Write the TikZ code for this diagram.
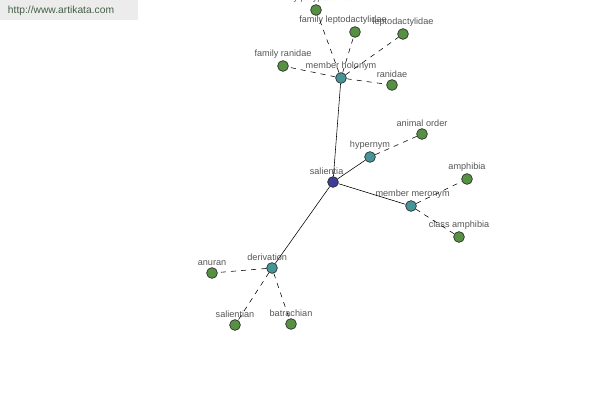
\documentclass[tikz,border=0pt]{standalone}
\usepackage{fontspec}
\setmainfont{Liberation Sans}
\usepackage{xcolor}
\usepackage{tikz}
\usetikzlibrary{positioning}
\definecolor{wnedge}{RGB}{40,40,40}
\definecolor{wnroot}{RGB}{62,62,150}
\definecolor{wnrel}{RGB}{70,148,152}
\definecolor{wnleaf}{RGB}{86,144,66}
\definecolor{wntext}{RGB}{85,85,85}
\definecolor{wnmark}{RGB}{236,236,236}
\definecolor{wnmarktext}{RGB}{70,95,70}
\tikzset{
  wnnode/.style={
    circle, draw=wnedge, line width=0.45pt, inner sep=0pt,
    minimum size=2.7mm, label distance=-0.3mm
  },
  root/.style={wnnode, fill=wnroot},
  rel/.style={wnnode, fill=wnrel},
  leaf/.style={wnnode, fill=wnleaf},
  link/.style={draw=black, line width=0.4pt},
  dlink/.style={link, dash pattern=on 3.6pt off 3.6pt},
  every label/.style={font=\fontsize{6.5}{7}\selectfont, text=wntext, inner sep=1pt},
  every picture/.append style={line join=round}
}
\begin{document}
\begin{tikzpicture}[x=0.025cm, y=-0.025cm]
  \useasboundingbox (0,0) rectangle (600,400);
  % watermark
  \fill[wnmark] (0,0) rectangle (138,20);
  \node[font=\fontsize{7.3}{8}\selectfont, text=wnmarktext] (mark) at (61,11) {http://www.artikata.com};
  % centre and relations
  \node[root, label={[xshift=-1.6mm]above:salientia}] (salientia) at (333,182) {};
  \node[rel, label=above:member holonym] (holonym) at (341,78) {};
  \node[rel, label=above:hypernym] (hypernym) at (370,157) {};
  \node[rel, label={[xshift=0.4mm]above:member meronym}] (meronym) at (411,206) {};
  \node[rel, label={[xshift=-1.2mm]above:derivation}] (derivation) at (272,268) {};
  % leaves
  \node[leaf, label=above:family polypedatidae] (polyped) at (316,10) {};
  \node[leaf, label={[xshift=-3mm]above:family leptodactylidae}] (famlepto) at (355,32) {};
  \node[leaf, label=above:leptodactylidae] (lepto) at (403,34) {};
  \node[leaf, label=above:family ranidae] (famranid) at (283,66) {};
  \node[leaf, label=above:ranidae] (ranidae) at (392,85) {};
  \node[leaf, label=above:animal order] (order) at (422,134) {};
  \node[leaf, label=above:amphibia] (amphibia) at (467,179) {};
  \node[leaf, label=above:class amphibia] (classamph) at (459,237) {};
  \node[leaf, label=above:anuran] (anuran) at (212,273) {};
  \node[leaf, label=above:salientian] (salientian) at (235,325) {};
  \node[leaf, label=above:batrachian] (batrachian) at (291,324) {};
  % connectors
  \draw[link] (salientia) -- (holonym);
  \draw[link] (salientia) -- (hypernym);
  \draw[link] (salientia) -- (meronym);
  \draw[link] (salientia) -- (derivation);
  \draw[dlink] (holonym) -- (polyped);
  \draw[dlink] (holonym) -- (famlepto);
  \draw[dlink] (holonym) -- (lepto);
  \draw[dlink] (holonym) -- (famranid);
  \draw[dlink] (holonym) -- (ranidae);
  \draw[dlink] (hypernym) -- (order);
  \draw[dlink] (meronym) -- (amphibia);
  \draw[dlink] (meronym) -- (classamph);
  \draw[dlink] (derivation) -- (anuran);
  \draw[dlink] (derivation) -- (salientian);
  \draw[dlink] (derivation) -- (batrachian);
\end{tikzpicture}
\end{document}
